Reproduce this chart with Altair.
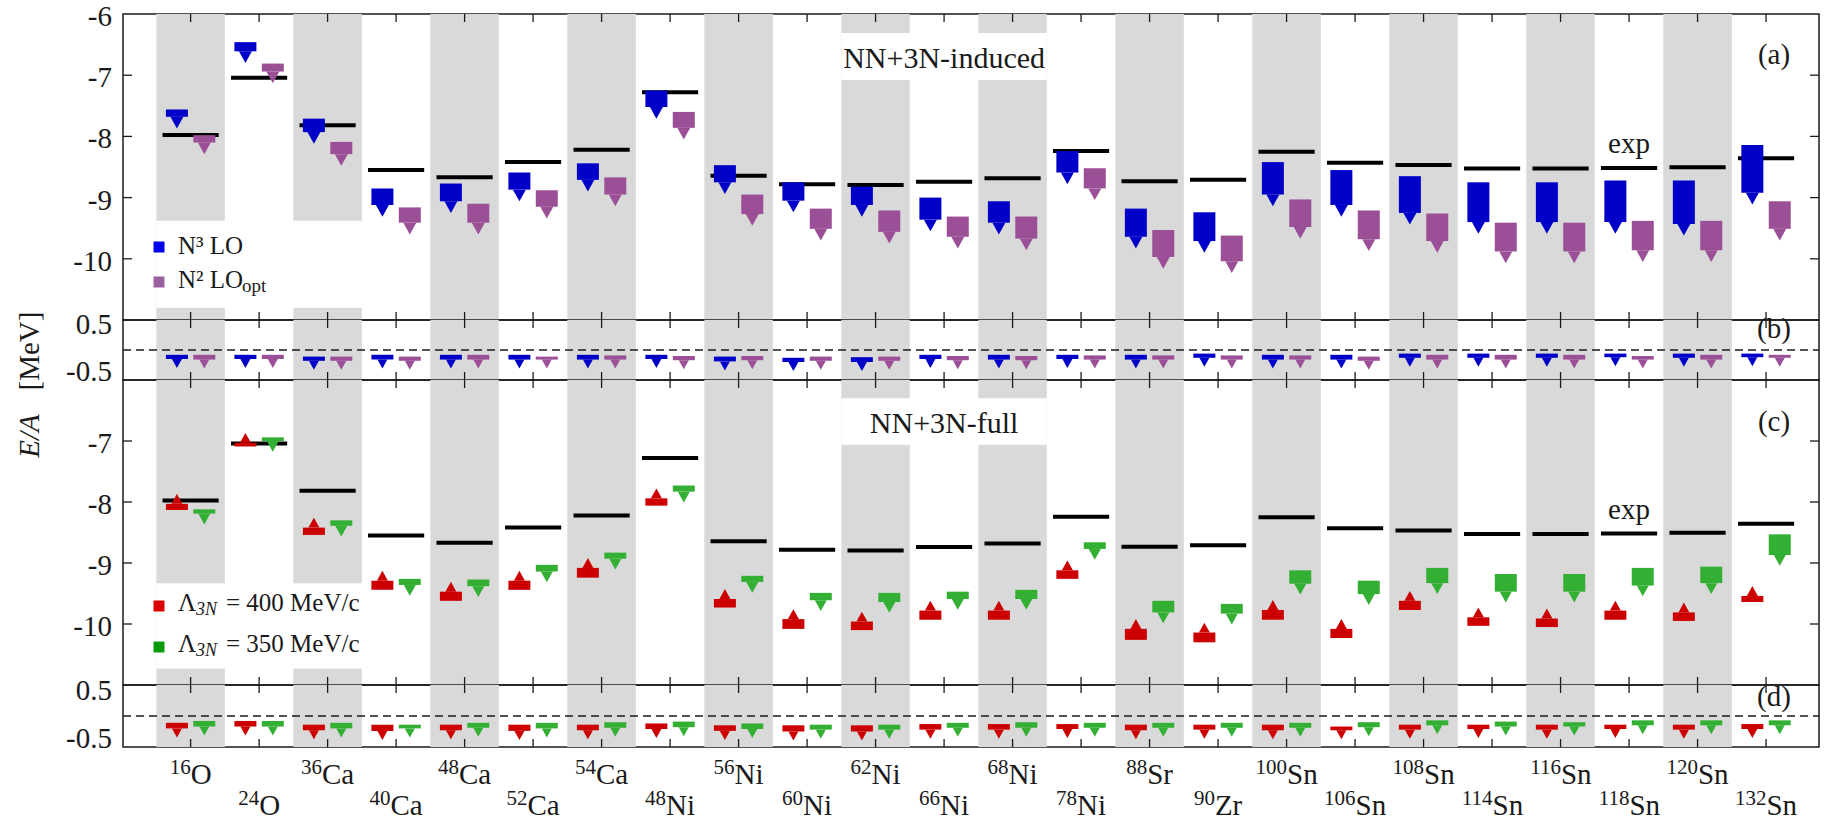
import altair as alt
import pandas as pd

# ---- nuclei along the x axis ----
mass = ["16", "24", "36", "40", "48", "52", "54", "48", "56", "60", "62", "66",
        "68", "78", "88", "90", "100", "106", "108", "114", "116", "118", "120", "132"]
elem = ["O", "O", "Ca", "Ca", "Ca", "Ca", "Ca", "Ni", "Ni", "Ni", "Ni", "Ni",
        "Ni", "Ni", "Sr", "Zr", "Sn", "Sn", "Sn", "Sn", "Sn", "Sn", "Sn", "Sn"]

# experimental binding energy per nucleon (MeV)
exp_ea = [-7.976, -7.040, -7.816, -8.551, -8.667, -8.42, -8.22, -7.28, -8.643, -8.781,
          -8.795, -8.739, -8.682, -8.24, -8.733, -8.710, -8.25, -8.432, -8.469, -8.523,
          -8.523, -8.517, -8.505, -8.355]

# (a) NN+3N-induced: upper / lower end of each bar (MeV)
n3lo_hi = [-7.56, -6.46, -7.71, -8.85, -8.77, -8.59, -8.44, -7.25, -8.47, -8.75, -8.82, -9.00,
           -9.06, -8.24, -9.18, -9.24, -8.42, -8.55, -8.65, -8.75, -8.75, -8.72, -8.72, -8.14]
n3lo_lo = [-7.68, -6.61, -7.93, -9.12, -9.06, -8.87, -8.71, -7.52, -8.75, -9.05, -9.12, -9.36,
           -9.41, -8.59, -9.64, -9.71, -8.95, -9.12, -9.25, -9.40, -9.40, -9.40, -9.43, -8.92]
n2lo_hi = [-7.98, -6.81, -8.09, -9.16, -9.10, -8.88, -8.67, -7.60, -8.95, -9.18, -9.21, -9.31,
           -9.31, -8.52, -9.53, -9.62, -9.03, -9.21, -9.26, -9.41, -9.41, -9.38, -9.38, -9.06]
n2lo_lo = [-8.10, -6.94, -8.29, -9.41, -9.41, -9.15, -8.95, -7.86, -9.27, -9.51, -9.56, -9.64,
           -9.67, -8.85, -9.97, -10.04, -9.48, -9.68, -9.71, -9.88, -9.88, -9.86, -9.86, -9.51]

# (b) residuals for the induced case
n3lo_b_hi = [-0.08, -0.08, -0.11, -0.08, -0.08, -0.08, -0.08, -0.08, -0.11, -0.13, -0.12, -0.08,
             -0.08, -0.08, -0.08, -0.06, -0.08, -0.08, -0.06, -0.06, -0.06, -0.06, -0.06, -0.06]
n3lo_b_lo = [-0.15, -0.15, -0.18, -0.16, -0.16, -0.16, -0.16, -0.15, -0.19, -0.20, -0.20, -0.15,
             -0.16, -0.15, -0.16, -0.13, -0.16, -0.16, -0.13, -0.13, -0.13, -0.12, -0.13, -0.12]
n2lo_b_hi = [-0.08, -0.08, -0.11, -0.11, -0.08, -0.11, -0.09, -0.10, -0.10, -0.11, -0.11, -0.10,
             -0.10, -0.09, -0.09, -0.09, -0.09, -0.11, -0.08, -0.08, -0.08, -0.10, -0.08, -0.08]
n2lo_b_lo = [-0.16, -0.15, -0.18, -0.18, -0.16, -0.16, -0.16, -0.17, -0.17, -0.18, -0.18, -0.17,
             -0.17, -0.16, -0.16, -0.16, -0.16, -0.18, -0.16, -0.16, -0.16, -0.16, -0.16, -0.13]

# (c) NN+3N-full
l400_hi = [-8.03, -7.03, -8.42, -9.29, -9.47, -9.29, -9.08, -7.94, -9.59, -9.92, -9.96, -9.78,
           -9.78, -9.12, -10.08, -10.14, -9.77, -10.08, -9.62, -9.89, -9.91, -9.78, -9.81, -9.54]
l400_lo = [-8.13, -7.09, -8.54, -9.44, -9.62, -9.44, -9.24, -8.06, -9.73, -10.08, -10.10, -9.93,
           -9.93, -9.26, -10.26, -10.30, -9.93, -10.23, -9.77, -10.03, -10.05, -9.93, -9.95, -9.64]
l350_hi = [-8.12, -6.94, -8.30, -9.26, -9.27, -9.03, -8.83, -7.73, -9.21, -9.49, -9.49, -9.47,
           -9.44, -8.66, -9.62, -9.67, -9.12, -9.29, -9.08, -9.18, -9.18, -9.08, -9.06, -8.53]
l350_lo = [-8.19, -7.00, -8.39, -9.36, -9.38, -9.14, -8.93, -7.83, -9.31, -9.61, -9.64, -9.59,
           -9.59, -8.77, -9.81, -9.83, -9.34, -9.51, -9.33, -9.47, -9.47, -9.37, -9.33, -8.87]

# (d) residuals for the full case
l400_d_hi = [-0.11, -0.08, -0.14, -0.14, -0.14, -0.14, -0.14, -0.12, -0.15, -0.15, -0.15, -0.13,
             -0.13, -0.13, -0.14, -0.14, -0.14, -0.17, -0.14, -0.14, -0.14, -0.14, -0.14, -0.13]
l400_d_lo = [-0.20, -0.17, -0.23, -0.24, -0.23, -0.24, -0.23, -0.21, -0.24, -0.25, -0.25, -0.22,
             -0.22, -0.21, -0.23, -0.22, -0.23, -0.23, -0.22, -0.21, -0.22, -0.21, -0.22, -0.21]
l350_d_hi = [-0.08, -0.08, -0.11, -0.14, -0.11, -0.11, -0.10, -0.09, -0.12, -0.14, -0.14, -0.11,
             -0.10, -0.11, -0.11, -0.11, -0.11, -0.10, -0.07, -0.09, -0.10, -0.07, -0.07, -0.07]
l350_d_lo = [-0.17, -0.17, -0.20, -0.20, -0.19, -0.20, -0.19, -0.18, -0.21, -0.22, -0.22, -0.19,
             -0.19, -0.19, -0.19, -0.19, -0.19, -0.18, -0.15, -0.17, -0.17, -0.15, -0.15, -0.15]

# tick labels
big_labels_a = ["-6", "-7", "-8", "-9", "-10"]
big_labels_c = ["-7", "-8", "-9", "-10"]

# ---- layout / style ----
W = 1696
H_A, H_B, H_C, H_D = 306, 60, 305, 62
X_DOM = [-0.914, 23.70]
BIG_DOM = [-11, -6]
SMALL_DOM = [-0.5, 0.5]
PX_PER_UNIT = W / (X_DOM[1] - X_DOM[0])
FONT = "Liberation Serif"
INK = "#1a1a1a"
GRAY = "#D9D9D9"
BLUE, PURPLE, RED, GREEN = "#0000C8", "#9B4F96", "#CC0000", "#33B033"
TRI_DOWN = "M-1,0L1,0L0,1.8Z"
TRI_UP = "M-1,0L1,0L0,-1.8Z"

nuc = pd.DataFrame({"i": list(range(len(mass))), "mass": mass, "elem": elem, "exp": exp_ea})


def xenc(field):
    return alt.X(field, type="quantitative",
                 scale=alt.Scale(domain=X_DOM, nice=False, zero=False), axis=None)


def yenc(field, dom):
    return alt.Y(field, type="quantitative",
                 scale=alt.Scale(domain=dom, nice=False, zero=False), axis=None)


def text(t, x, y, size=29, align="center", style="normal", angle=0, baseline="alphabetic"):
    return alt.Chart(pd.DataFrame({"t": [t]})).mark_text(
        font=FONT, fontSize=size, align=align, fontStyle=style, angle=angle,
        baseline=baseline, color=INK
    ).encode(text="t:N", x=alt.value(x), y=alt.value(y))


def bands(h):
    return alt.Chart(nuc).transform_filter("datum.i % 2 == 0").transform_calculate(
        lo="datum.i - 0.5", hi="datum.i + 0.5"
    ).mark_rect(color=GRAY).encode(x=xenc("lo"), x2="hi", y=alt.value(0), y2=alt.value(h))


def blank(x0, x1, y0, y1, dom):
    df = pd.DataFrame({"x0": [x0], "x1": [x1], "y0": [y0], "y1": [y1]})
    return alt.Chart(df).mark_rect(color="white").encode(
        x=xenc("x0"), x2="x1", y=yenc("y0", dom), y2="y1")


def xticks(h):
    top = alt.Chart(nuc).mark_rule(color=INK, strokeWidth=1.3).encode(
        x=xenc("i"), y=alt.value(0), y2=alt.value(8))
    bot = alt.Chart(nuc).mark_rule(color=INK, strokeWidth=1.3).encode(
        x=xenc("i"), y=alt.value(h - 8), y2=alt.value(h))
    return [top, bot]


def yticks(vals, dom):
    df = pd.DataFrame({"v": vals})
    left = alt.Chart(df).mark_rule(color=INK, strokeWidth=1.3).encode(
        x=alt.value(0), x2=alt.value(9), y=yenc("v", dom))
    right = alt.Chart(df).mark_rule(color=INK, strokeWidth=1.3).encode(
        x=alt.value(W - 9), x2=alt.value(W), y=yenc("v", dom))
    return [left, right]


def ylabels(labels, dom, dy):
    df = pd.DataFrame({"lab": labels, "v": [float(s) for s in labels]})
    return alt.Chart(df).mark_text(font=FONT, fontSize=29, align="right", dy=dy,
                                   baseline="alphabetic", color=INK).encode(
        text="lab:N", x=alt.value(-11), y=yenc("v", dom))


def markers(hi, lo, off, color, dom, tri_size, up=False):
    df = pd.DataFrame({"i": list(range(len(hi))), "hi": hi, "lo": lo})
    base = alt.Chart(df).transform_calculate(pos=f"datum.i + ({off})")
    bar = base.mark_bar(size=22, color=color).encode(
        x=xenc("pos"), y=yenc("hi", dom), y2="lo")
    tri = base.mark_point(shape=TRI_UP if up else TRI_DOWN, filled=True, size=tri_size,
                          color=color, opacity=1, strokeWidth=0).encode(
        x=xenc("pos"), y=yenc("hi" if up else "lo", dom))
    return [bar, tri]


def exp_lines(dom):
    return alt.Chart(nuc).transform_calculate(
        xl="datum.i - 0.41", xr="datum.i + 0.41"
    ).mark_rule(color="black", strokeWidth=4).encode(x=xenc("xl"), x2="xr", y=yenc("exp", dom))


def exp_label(dom):
    return alt.Chart(nuc).transform_filter("datum.i == 21").mark_text(
        text="exp", font=FONT, fontSize=29, dy=-15, baseline="alphabetic", color=INK
    ).encode(x=xenc("i"), y=yenc("exp", dom))


def title_label(t, y):
    return alt.Chart(nuc).transform_filter("datum.i == 11").mark_text(
        text=t, font=FONT, fontSize=30, baseline="alphabetic", color=INK
    ).encode(x=xenc("i"), y=alt.value(y))


def zero_line(dom):
    return alt.Chart(pd.DataFrame({"z": [0.0]})).mark_rule(
        color=INK, strokeWidth=1.5, strokeDash=[8, 5]
    ).encode(x=alt.value(0), x2=alt.value(W), y=yenc("z", dom))


def square(x, y, color):
    return alt.Chart(pd.DataFrame({"a": [0]})).mark_square(
        size=121, color=color, opacity=1).encode(x=alt.value(x), y=alt.value(y))


# ---- panel (a) ----
anchor = alt.Chart(pd.DataFrame({"a": [0]})).mark_rule(opacity=0).encode(
    x=alt.value(-122), x2=alt.value(-122), y=alt.value(-13), y2=alt.value(-13))

panel_a = alt.layer(
    anchor,
    bands(H_A),
    blank(-0.5, 3.4, -9.38, -10.8, BIG_DOM),
    blank(9.5, 12.5, -6.31, -7.08, BIG_DOM),
    *xticks(H_A),
    *yticks([-7, -8, -9, -10], BIG_DOM),
    ylabels(big_labels_a, BIG_DOM, 12),
    exp_lines(BIG_DOM),
    *markers(n3lo_hi, n3lo_lo, -0.2, BLUE, BIG_DOM, 169),
    *markers(n2lo_hi, n2lo_lo, 0.2, PURPLE, BIG_DOM, 169),
    exp_label(BIG_DOM),
    title_label("NN+3N-induced", 54),
    text("(a)", 1651, 50),
    square(36, 233, "#0000F0"),
    square(36, 268, "#9A5F9E"),
    text("N³ LO", 55, 240, size=25, align="left"),
    text("N² LO", 55, 274, size=25, align="left"),
    text("opt", 119, 278, size=19, align="left"),
).properties(width=W, height=H_A)

# ---- panel (b) ----
panel_b = alt.layer(
    bands(H_B),
    *xticks(H_B),
    zero_line(SMALL_DOM),
    ylabels(["0.5"], SMALL_DOM, 14),
    ylabels(["-0.5"], SMALL_DOM, 1),
    *markers(n3lo_b_hi, n3lo_b_lo, -0.2, BLUE, SMALL_DOM, 100),
    *markers(n2lo_b_hi, n2lo_b_lo, 0.2, PURPLE, SMALL_DOM, 100),
    text("(b)", 1651, 18),
    text("[MeV]", -93, 31, angle=270, baseline="middle"),
    text("E/A", -93, 116, angle=270, baseline="middle", style="italic"),
).properties(width=W, height=H_B)

# ---- panel (c) ----
panel_c = alt.layer(
    bands(H_C),
    blank(-0.5, 3.4, -9.33, -10.73, BIG_DOM),
    blank(9.5, 12.5, -6.30, -7.06, BIG_DOM),
    *xticks(H_C),
    *yticks([-7, -8, -9, -10], BIG_DOM),
    ylabels(big_labels_c, BIG_DOM, 12),
    exp_lines(BIG_DOM),
    *markers(l400_hi, l400_lo, -0.2, RED, BIG_DOM, 121, up=True),
    *markers(l350_hi, l350_lo, 0.2, GREEN, BIG_DOM, 144),
    exp_label(BIG_DOM),
    title_label("NN+3N-full", 53),
    text("(c)", 1651, 51),
    square(36, 226, "#DD0000"),
    square(36, 267, "#0A9A0A"),
    text("Λ", 55, 231, size=25, align="left"),
    text("3N", 73, 235, size=18, align="left", style="italic"),
    text("= 400 MeV/c", 103, 231, size=25, align="left"),
    text("Λ", 55, 272, size=25, align="left"),
    text("3N", 73, 276, size=18, align="left", style="italic"),
    text("= 350 MeV/c", 103, 272, size=25, align="left"),
).properties(width=W, height=H_C)

# ---- panel (d) with nuclide labels underneath ----
SYM_EM = {"O": 0.722, "Ca": 1.111, "Ni": 1.0, "Sr": 0.889, "Zr": 0.944, "Sn": 1.056}
SUP_SIZE, SYM_SIZE = 21, 29
lab = nuc.copy()
lab["xs"] = [i + (len(m) * 0.5 * SUP_SIZE - SYM_EM[e] * SYM_SIZE) / 2 / PX_PER_UNIT
             for i, m, e in zip(lab["i"], lab["mass"], lab["elem"])]


def nuclide_row(parity, base_y):
    src = alt.Chart(lab).transform_filter(f"datum.i % 2 == {parity}")
    sym = src.mark_text(font=FONT, fontSize=SYM_SIZE, align="left", baseline="alphabetic",
                        color=INK).encode(text="elem:N", x=xenc("xs"), y=alt.value(base_y))
    sup = src.mark_text(font=FONT, fontSize=SUP_SIZE, align="right", baseline="alphabetic",
                        color=INK).encode(text="mass:N", x=xenc("xs"), y=alt.value(base_y - 10))
    return [sym, sup]


panel_d = alt.layer(
    bands(H_D),
    *xticks(H_D),
    zero_line(SMALL_DOM),
    ylabels(["0.5"], SMALL_DOM, 15),
    ylabels(["-0.5"], SMALL_DOM, 1),
    *markers(l400_d_hi, l400_d_lo, -0.2, RED, SMALL_DOM, 100),
    *markers(l350_d_hi, l350_d_lo, 0.2, GREEN, SMALL_DOM, 100),
    text("(d)", 1651, 21),
    *nuclide_row(0, 99),
    *nuclide_row(1, 130),
).properties(width=W, height=H_D)

chart = alt.vconcat(panel_a, panel_b, panel_c, panel_d, spacing=0, bounds="flush").resolve_scale(
    x="independent", y="independent"
).properties(padding=0).configure_view(stroke=INK, strokeWidth=1.5)

chart.save("out.html", embed_options={"renderer": "svg", "actions": False})
